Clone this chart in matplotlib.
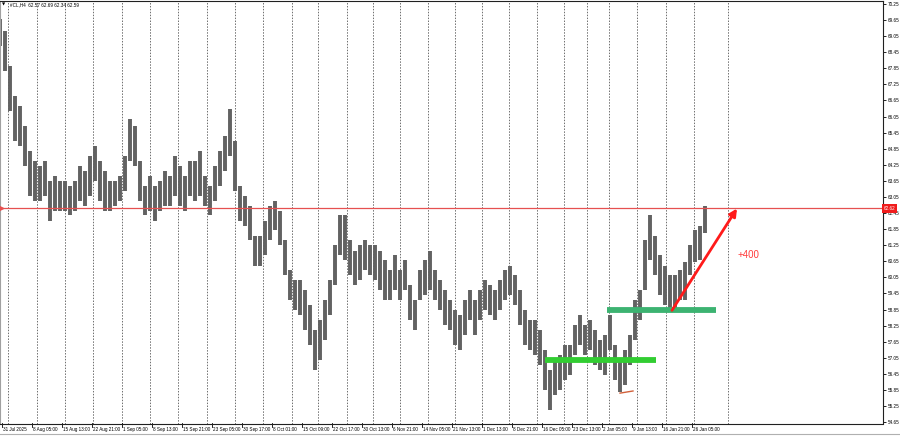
import numpy as np
import matplotlib
matplotlib.use("Agg")
import matplotlib.pyplot as plt

# #CL H4 price bars, sampled every 5 bar-slots (high / low)
highs = [69.69, 69.24, 67.94, 66.82, 66.45, 65.71, 64.77, 64.40, 64.22, 64.40,
         63.66, 63.84, 63.66, 63.66, 63.47, 63.66, 64.22, 64.03, 64.59, 64.96,
         64.40, 64.03, 63.66, 63.66, 63.84, 64.59, 65.96, 65.71, 64.40, 63.47,
         63.84, 63.47, 63.66, 64.03, 63.84, 64.59, 64.22, 63.84, 64.40, 64.40,
         64.77, 63.84, 63.47, 64.22, 64.77, 65.33, 66.34, 65.15, 63.47, 63.10,
         62.73, 61.61, 61.61, 62.17, 62.73, 62.91, 62.54, 61.43, 60.31, 59.94,
         59.94, 59.56, 59.01, 58.07, 58.45, 59.19, 59.94, 61.24, 62.36, 62.36,
         61.43, 61.05, 61.24, 61.43, 61.24, 61.24, 61.05, 60.68, 60.31, 60.87,
         60.31, 60.68, 59.75, 59.19, 60.31, 60.68, 61.05, 60.31, 59.94, 59.56,
         59.19, 58.82, 58.63, 59.19, 59.56, 59.19, 59.56, 59.94, 59.75, 59.56,
         59.94, 60.31, 60.49, 60.12, 59.56, 58.82, 58.45, 58.45, 58.07, 57.33,
         56.58, 56.96, 57.14, 57.51, 57.51, 58.26, 58.63, 58.26, 58.45, 58.07,
         57.70, 57.89, 58.63, 57.51, 56.96, 57.33, 57.89, 59.19, 59.56, 61.43,
         62.36, 61.61, 60.87, 60.49, 60.12, 60.12, 60.31, 60.61, 61.24, 61.80,
         61.98, 62.73]
lows = [68.68, 67.75, 66.26, 65.15, 64.96, 64.22, 63.10, 62.91, 62.91, 63.10,
        62.17, 62.54, 62.54, 62.54, 62.36, 62.54, 62.91, 62.73, 63.10, 63.66,
        62.91, 62.54, 62.54, 62.73, 62.91, 63.29, 64.40, 64.22, 62.91, 62.36,
        62.54, 62.17, 62.54, 62.73, 62.73, 63.10, 62.73, 62.54, 63.10, 62.91,
        63.10, 62.73, 62.36, 62.91, 63.47, 64.03, 64.59, 63.29, 62.17, 61.98,
        61.43, 60.49, 60.49, 60.87, 61.43, 61.80, 61.24, 60.12, 59.19, 58.82,
        58.63, 58.07, 57.51, 56.58, 56.96, 57.70, 58.63, 59.75, 60.87, 60.68,
        60.12, 59.75, 59.94, 60.31, 60.12, 59.94, 59.56, 59.19, 59.19, 59.56,
        59.19, 59.56, 58.45, 58.07, 59.19, 59.38, 59.56, 59.19, 58.82, 58.26,
        58.07, 57.51, 57.33, 57.89, 58.45, 57.89, 58.45, 58.82, 58.63, 58.45,
        58.82, 59.19, 59.38, 59.01, 58.26, 57.51, 57.33, 57.14, 56.77, 55.84,
        55.10, 55.66, 55.84, 56.21, 56.40, 57.14, 57.51, 57.14, 57.33, 56.77,
        56.58, 56.40, 57.33, 56.21, 55.77, 56.03, 56.77, 57.70, 58.45, 59.56,
        60.68, 60.12, 59.38, 59.01, 58.82, 58.82, 59.19, 59.19, 60.12, 60.61,
        60.68, 61.69]
bar_step = 5

bid = 62.62
title = "#CL,H4  62.57 62.69 62.34 62.59"

price_ticks = [54.65, 55.25, 55.85, 56.45, 57.05, 57.65, 58.25, 58.85, 59.45,
               60.05, 60.65, 61.25, 61.85, 62.45, 63.05, 63.65, 64.25, 64.85,
               65.45, 66.05, 66.65, 67.25, 67.85, 68.45, 69.05, 69.65, 70.25]

date_labels = ["31 Jul 2025", "8 Aug 05:00", "15 Aug 13:00", "22 Aug 21:00",
               "1 Sep 05:00", "8 Sep 13:00", "15 Sep 21:00", "23 Sep 05:00",
               "30 Sep 17:00", "8 Oct 01:00", "15 Oct 09:00", "22 Oct 17:00",
               "30 Oct 13:00", "6 Nov 21:00", "14 Nov 05:00", "21 Nov 13:00",
               "1 Dec 13:00", "8 Dec 21:00", "16 Dec 05:00", "23 Dec 13:00",
               "2 Jan 05:00", "9 Jan 13:00", "16 Jan 21:00", "26 Jan 05:00"]
date_step = 30
grid_x = [8, 37, 65, 93, 122, 150, 178, 207, 235, 263, 292, 318, 347, 373,
          400, 428, 455, 482, 509, 537, 564, 587, 609, 637, 666, 694, 728]

# user drawings
support_hi = (58.84, 607, 716)
support_lo = (56.96, 545, 656)
swing_low = ((620, 55.73), (633, 55.81))
arrow_from = (672, 58.82)
arrow_to = (737, 62.62)
target_text = ("+400", 738, 60.90)

W, H = 900, 436
AX_RIGHT = 883
AX_TOP, AX_BOT = 1, 423.5
PX_PER_USD = 26.8
Y_TOP = 70.25 + 3 / PX_PER_USD
Y_BOT = Y_TOP - (AX_BOT - AX_TOP) / PX_PER_USD

fig = plt.figure(figsize=(W / 100, H / 100), dpi=100)
ax = fig.add_axes([0, (H - AX_BOT) / H, AX_RIGHT / W, (AX_BOT - AX_TOP) / H])
ax.set_xlim(0, AX_RIGHT)
ax.set_ylim(Y_BOT, Y_TOP)

font = "Liberation Sans"
fs = 3.3

for gx in grid_x:
    ax.axvline(gx, color="#6e6e6e", lw=0.7, ls=(0, (1.5, 1.5)), zorder=1)

# bar strokes with a thin gap, like the terminal's compressed H4 bars
x = np.arange(len(highs)) * bar_step
ax.vlines(x, lows, highs, color="#626262", lw=3.9 * 0.72, zorder=2)

ax.axhline(bid, color="#e65050", lw=0.9, zorder=3)
ax.plot([1], [bid], marker=">", ms=3, color="#e65050", clip_on=False, zorder=3)

for level, x0, x1, col in [(*support_hi, "#3cb371"), (*support_lo, "#32cd32")]:
    ax.plot([x0, x1], [level, level], color=col, lw=4.2, solid_capstyle="butt", zorder=4)
ax.plot([p[0] for p in swing_low], [p[1] for p in swing_low], color="#d2603a", lw=1, zorder=4)

ax.annotate("", xy=arrow_to, xytext=arrow_from,
            arrowprops=dict(arrowstyle="-|>", color="#ff1a1a", lw=2.0,
                            mutation_scale=11, shrinkA=0, shrinkB=0), zorder=5)
ax.text(target_text[1], target_text[2], target_text[0], color="#ff3b3b",
        fontsize=7, family=font, va="center", ha="left", zorder=5)

# price scale on the right
ax.yaxis.tick_right()
ax.set_yticks(price_ticks)
ax.set_yticklabels([f"{p:.2f}" for p in price_ticks], fontsize=fs, family=font)
ax.tick_params(axis="y", length=2, width=0.6, pad=1.2, color="black")
ax.set_xticks([])
ax.text(AX_RIGHT + 1, bid, f"{bid:.2f}", fontsize=fs, family=font, color="white",
        va="center", ha="left", clip_on=False, zorder=6,
        bbox=dict(boxstyle="square,pad=0.35", fc="#f01c1c", ec="none"))

# date scale
for i, lab in enumerate(date_labels):
    dx = 2 + i * date_step
    ax.plot([dx, dx], [Y_BOT, Y_BOT - 0.12], color="black", lw=0.6, clip_on=False)
    ax.text(dx + 1, -0.008, lab, transform=ax.get_xaxis_transform(), fontsize=fs,
            family=font, va="top", ha="left")

for s in ax.spines.values():
    s.set_linewidth(0.8)
    s.set_color("#202020")
ax.spines["left"].set_color("#a0a0a0")

fig.text(10 / W, 1 - 5 / H, title, fontsize=fs, family=font, va="center", ha="left")
fig.text(2 / W, 1 - 5 / H, "\u25BC", fontsize=3, va="center", ha="left")
fig.add_artist(plt.Line2D([0, 1], [1 - 434 / H] * 2, color="#b0b0b0", lw=0.8))

fig.savefig("out.png", dpi=100, facecolor="white")
